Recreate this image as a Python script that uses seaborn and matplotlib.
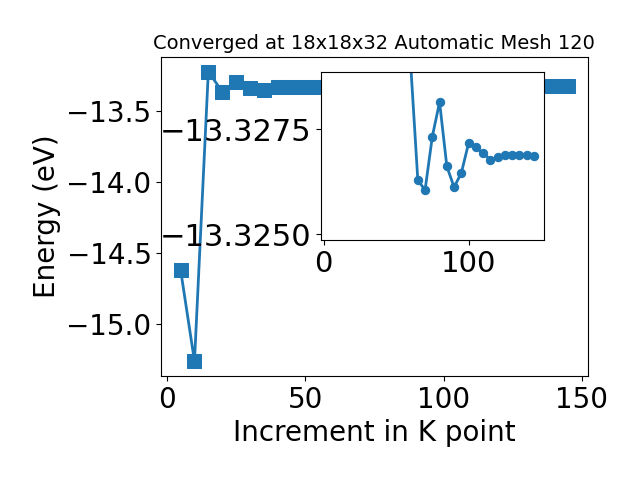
import pandas as pd
import matplotlib
matplotlib.use("Agg")
import matplotlib.pyplot as plt
import seaborn as sns

# k-point increments and total energies (eV)
kpoints = [5, 10, 15, 20, 25, 30, 35, 40, 45, 50, 55, 60, 65, 70, 75, 80,
           85, 90, 95, 100, 105, 110, 115, 120, 125, 130, 135, 140, 145]
energy = [-14.62, -15.26, -13.225, -13.365, -13.298, -13.341, -13.352,
          -13.330, -13.330, -13.330, -13.330, -13.3291,
          -13.32629, -13.32605, -13.32733, -13.32815, -13.32662, -13.32612,
          -13.32646, -13.32717, -13.32707, -13.32693, -13.32678, -13.32684,
          -13.32688, -13.32689, -13.32690, -13.32688, -13.32686]

title = "Converged at 18x18x32 Automatic Mesh 120"
inset_start = 60  # zoomed view only shows the converged tail

df = pd.DataFrame({"kpoint": kpoints, "energy": energy})
tail = df[df["kpoint"] >= inset_start]

color = "#1f77b4"

fig, ax = plt.subplots(figsize=(6.4, 4.8), dpi=100)
fig.subplots_adjust(left=0.252, right=0.918, top=0.881, bottom=0.217)

sns.lineplot(data=df, x="kpoint", y="energy", ax=ax, color=color,
             marker="s", markersize=10, markeredgecolor=color,
             linewidth=2, errorbar=None)
ax.set_title(title, fontsize=14)
ax.set_xlabel("Increment in K point", fontsize=20)
ax.set_ylabel("Energy (eV)", fontsize=20)
ax.set_xticks([0, 50, 100, 150])
ax.set_yticks([-13.5, -14.0, -14.5, -15.0])
ax.tick_params(labelsize=20)

# inset zoom on the converged values
axin = fig.add_axes([0.501, 0.5, 0.349, 0.35])
sns.lineplot(data=tail, x="kpoint", y="energy", ax=axin, color=color,
             marker="o", markersize=6, markeredgecolor=color,
             linewidth=2, errorbar=None)
axin.set_xlim(-2, 152)
axin.set_ylim(-13.32486, -13.32887)
axin.set_xticks([0, 100])
axin.set_yticks([-13.3275, -13.3250])
axin.set_yticklabels(["\u221213.3275", "\u221213.3250"])
axin.set_xlabel("")
axin.set_ylabel("")
axin.tick_params(axis="x", labelsize=21)
axin.tick_params(axis="y", labelsize=22)

fig.savefig("out.png", dpi=100)
